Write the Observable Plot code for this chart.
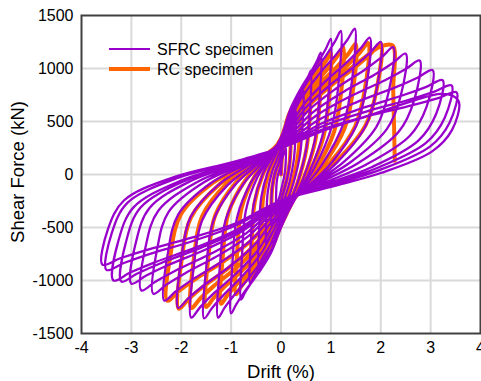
<!DOCTYPE html>
<html><head><meta charset="utf-8">
<script src="https://cdn.jsdelivr.net/npm/d3@7"></script>
<script src="https://cdn.jsdelivr.net/npm/@observablehq/plot@0.6"></script>
<style>body{margin:0;background:#fff}</style>
</head><body><div id="chart"></div><script>
// Tick labels
const xTicks = [-4,-3,-2,-1,0,1,2,3,4];
const yTicks = [-1500,-1000,-500,0,500,1000,1500];
const xGrid = [-3,-2,-1,0,1,2,3];
const yGrid = [-1000,-500,0,500,1000];
const seriesNames = ["SFRC specimen","RC specimen"];
const seriesColors = ["#9900cc","#ff6600"];

// SFRC specimen: [drift %, shear kN], one array per cycle
const sfrcLoops = [
 [[0,0]],
 [[0.025,153],[0.05,187],[0.075,216],[0.09,235],[0.1,250],[0.096,138],[0.085,50],[0.056,-38],[0.028,-94],[0,-150],[-0.025,-203],[-0.05,-237],[-0.075,-266],[-0.09,-285],[-0.1,-300],[-0.097,-180],[-0.088,-80],[-0.06,0],[-0.027,52],[0,100]],
 [[0.05,268],[0.1,325],[0.15,373],[0.18,405],[0.2,430],[0.192,240],[0.17,90],[0.112,-60],[0.056,-155],[0,-250],[-0.05,-331],[-0.1,-383],[-0.15,-427],[-0.18,-457],[-0.2,-480],[-0.194,-282],[-0.176,-117],[-0.12,15],[-0.054,101],[0,180]],
 [[0.075,373],[0.15,453],[0.225,520],[0.27,565],[0.3,600],[0.288,337],[0.255,130],[0.168,-77],[0.084,-208],[0,-340],[-0.075,-452],[-0.15,-526],[-0.225,-586],[-0.27,-628],[-0.3,-660],[-0.291,-387],[-0.264,-160],[-0.18,23],[-0.081,141],[0,250]],
 [[0.1125,482],[0.225,594],[0.3375,687],[0.405,751],[0.45,800],[0.432,458],[0.3825,190],[0.252,-78],[0.126,-249],[0,-420],[-0.1125,-574],[-0.225,-675],[-0.3375,-759],[-0.405,-816],[-0.45,-860],[-0.4365,-509],[-0.396,-217],[-0.27,18],[-0.1215,170],[0,310]],
 [[0.15,564],[0.3,711],[0.45,833],[0.54,916],[0.6,980],[0.576,571],[0.51,250],[0.336,-71],[0.168,-276],[0,-480],[-0.155,-673],[-0.31,-799],[-0.465,-904],[-0.558,-975],[-0.62,-1030],[-0.601,-619],[-0.546,-277],[-0.372,-3],[-0.167,176],[0,340]],
 [[0.2,630],[0.4,814],[0.6,966],[0.72,1070],[0.8,1150],[0.768,688],[0.68,325],[0.448,-38],[0.224,-269],[0,-500],[-0.2,-738],[-0.4,-894],[-0.6,-1024],[-0.72,-1112],[-0.8,-1180],[-0.776,-721],[-0.704,-339],[-0.48,-33],[-0.216,166],[0,350]],
 [[0.25,669],[0.5,885],[0.75,1064],[0.9,1186],[1.0,1280],[0.96,787],[0.85,400],[0.56,13],[0.28,-234],[0,-480],[-0.25,-771],[-0.5,-961],[-0.75,-1119],[-0.9,-1227],[-1.0,-1310],[-0.97,-815],[-0.88,-403],[-0.6,-72],[-0.27,142],[0,340]],
 [[0.3,689],[0.6,925],[0.9,1119],[1.08,1253],[1.2,1355],[1.152,852],[1.02,458],[0.672,63],[0.336,-189],[0,-440],[-0.315,-759],[-0.63,-968],[-0.945,-1141],[-1.134,-1259],[-1.26,-1350],[-1.222,-846],[-1.109,-426],[-0.756,-90],[-0.34,128],[0,330]],
 [[0.37,690],[0.74,933],[1.11,1134],[1.332,1271],[1.48,1377],[1.421,879],[1.258,489],[0.829,98],[0.414,-151],[0,-400],[-0.385,-735],[-0.77,-956],[-1.155,-1138],[-1.386,-1262],[-1.54,-1358],[-1.494,-855],[-1.355,-435],[-0.924,-99],[-0.416,119],[0,320]],
 [[0.445,653],[0.89,878],[1.335,1065],[1.602,1192],[1.78,1290],[1.709,828],[1.513,465],[0.997,102],[0.498,-129],[0,-360],[-0.45,-707],[-0.9,-934],[-1.35,-1122],[-1.62,-1251],[-1.8,-1350],[-1.746,-852],[-1.584,-437],[-1.08,-105],[-0.486,111],[0,310]],
 [[0.5,633],[1.0,851],[1.5,1032],[1.8,1155],[2.0,1250],[1.92,808],[1.7,460],[1.12,112],[0.56,-109],[0,-330],[-0.515,-655],[-1.03,-868],[-1.545,-1045],[-1.854,-1165],[-2.06,-1258],[-1.998,-791],[-1.813,-401],[-1.236,-90],[-0.556,113],[0,300]],
 [[0.5625,609],[1.125,818],[1.6875,991],[2.025,1109],[2.25,1200],[2.16,780],[1.9125,450],[1.26,120],[0.63,-90],[0,-300],[-0.585,-612],[-1.17,-816],[-1.755,-985],[-2.106,-1101],[-2.34,-1190],[-2.27,-746],[-2.059,-376],[-1.404,-80],[-0.632,112],[0,290]],
 [[0.625,581],[1.25,779],[1.875,942],[2.25,1054],[2.5,1140],[2.4,742],[2.125,430],[1.4,118],[0.7,-81],[0,-280],[-0.64,-576],[-1.28,-770],[-1.92,-931],[-2.304,-1041],[-2.56,-1125],[-2.483,-703],[-2.253,-352],[-1.536,-71],[-0.691,111],[0,280]],
 [[0.695,552],[1.39,737],[2.085,890],[2.502,995],[2.78,1075],[2.669,700],[2.363,405],[1.557,110],[0.778,-77],[0,-265],[-0.7,-555],[-1.4,-746],[-2.1,-903],[-2.52,-1011],[-2.8,-1094],[-2.716,-685],[-2.464,-344],[-1.68,-71],[-0.756,106],[0,270]],
 [[0.76,517],[1.52,683],[2.28,819],[2.736,913],[3.04,985],[2.918,638],[2.584,365],[1.702,92],[0.851,-81],[0,-255],[-0.75,-526],[-1.5,-705],[-2.25,-852],[-2.7,-953],[-3.0,-1030],[-2.91,-642],[-2.64,-318],[-1.8,-59],[-0.81,110],[0,265]],
 [[0.81,481],[1.62,625],[2.43,745],[2.916,827],[3.24,890],[3.11,571],[2.754,320],[1.814,69],[0.907,-90],[0,-250],[-0.8,-516],[-1.6,-691],[-2.4,-835],[-2.88,-934],[-3.2,-1010],[-3.104,-629],[-2.816,-312],[-1.92,-58],[-0.864,108],[0,260]],
 [[0.855,460],[1.71,594],[2.565,705],[3.078,782],[3.42,840],[3.283,536],[2.907,298],[1.915,59],[0.958,-93],[0,-245],[-0.84,-509],[-1.68,-683],[-2.52,-826],[-3.024,-925],[-3.36,-1000],[-3.259,-624],[-2.957,-310],[-2.016,-59],[-0.907,104],[0,255]],
 [[0.88,434],[1.76,555],[2.64,654],[3.168,723],[3.52,775],[3.379,489],[2.992,265],[1.971,41],[0.986,-102],[0,-245],[-0.875,-474],[-1.75,-625],[-2.625,-749],[-3.15,-835],[-3.5,-900],[-3.395,-555],[-3.08,-268],[-2.1,-38],[-0.945,112],[0,250]],
 [[0.89,420],[1.79,560],[2.68,700],[3.2,760],[3.45,740],[3.57,680],[3.43,421],[3.03,218],[2.0,14],[1.0,-116],[0,-245],[-0.895,-457],[-1.79,-596],[-2.685,-711],[-3.222,-790],[-3.58,-850],[-3.473,-520],[-3.15,-245],[-2.148,-25],[-0.967,118],[0,250]]
];

// RC specimen
const rcLoops = [
 [[0,0]],
 [[0.05,275],[0.1,337],[0.15,388],[0.18,423],[0.2,450],[0.192,254],[0.17,100],[0.112,-54],[0.056,-152],[0,-250],[-0.05,-338],[-0.1,-395],[-0.15,-443],[-0.18,-475],[-0.2,-500],[-0.194,-296],[-0.176,-126],[-0.12,10],[-0.054,98],[0,180]],
 [[0.1,458],[0.2,561],[0.3,647],[0.36,705],[0.4,750],[0.384,428],[0.34,175],[0.224,-78],[0.112,-239],[0,-400],[-0.1,-540],[-0.2,-632],[-0.3,-708],[-0.36,-760],[-0.4,-800],[-0.388,-470],[-0.352,-195],[-0.24,25],[-0.108,168],[0,300]],
 [[0.15,554],[0.3,694],[0.45,810],[0.54,889],[0.6,950],[0.576,552],[0.51,240],[0.336,-72],[0.168,-271],[0,-470],[-0.15,-656],[-0.3,-777],[-0.45,-878],[-0.54,-947],[-0.6,-1000],[-0.582,-598],[-0.528,-263],[-0.36,5],[-0.162,179],[0,340]],
 [[0.2,599],[0.4,769],[0.6,910],[0.72,1006],[0.8,1080],[0.768,643],[0.68,300],[0.448,-43],[0.224,-262],[0,-480],[-0.225,-708],[-0.45,-857],[-0.675,-981],[-0.81,-1065],[-0.9,-1130],[-0.873,-689],[-0.792,-322],[-0.54,-28],[-0.243,164],[0,340]],
 [[0.25,617],[0.5,806],[0.75,961],[0.9,1068],[1.0,1150],[0.96,705],[0.85,355],[0.56,5],[0.28,-217],[0,-440],[-0.3,-713],[-0.6,-892],[-0.9,-1041],[-1.08,-1142],[-1.2,-1220],[-1.164,-755],[-1.056,-368],[-0.72,-58],[-0.324,144],[0,330]],
 [[0.3125,628],[0.625,830],[0.9375,998],[1.125,1112],[1.25,1200],[1.2,752],[1.0625,400],[0.7,48],[0.35,-176],[0,-400],[-0.375,-698],[-0.75,-893],[-1.125,-1055],[-1.35,-1165],[-1.5,-1250],[-1.455,-779],[-1.32,-387],[-0.9,-73],[-0.405,132],[0,320]],
 [[0.375,632],[0.75,844],[1.125,1018],[1.35,1138],[1.5,1230],[1.44,785],[1.275,435],[0.84,85],[0.42,-137],[0,-360],[-0.45,-675],[-0.9,-882],[-1.35,-1053],[-1.62,-1170],[-1.8,-1260],[-1.746,-789],[-1.584,-397],[-1.08,-83],[-0.486,122],[0,310]],
 [[0.4375,629],[0.875,845],[1.3125,1024],[1.575,1146],[1.75,1240],[1.68,800],[1.4875,455],[0.98,110],[0.49,-110],[0,-330],[-0.5125,-657],[-1.025,-872],[-1.5375,-1050],[-1.845,-1172],[-2.05,-1265],[-1.989,-796],[-1.804,-404],[-1.23,-91],[-0.554,112],[0,300]],
 [[0.5,621],[1.0,838],[1.5,1018],[1.8,1141],[2.0,1235],[1.92,805],[1.7,468],[1.12,130],[0.56,-85],[0,-300],[-0.57,-612],[-1.14,-816],[-1.71,-985],[-2.052,-1101],[-2.28,-1190],[-2.212,-746],[-2.006,-376],[-1.368,-80],[-0.616,112],[0,290]],
 [[0.5,640],[1.0,860],[1.5,1040],[1.8,1150],[2.0,1210],[2.24,1217],[2.25,800],[2.27,400],[2.28,130]]
];

const toRows = loops => loops.flat().map(([x, y]) => ({x, y}));
const sfrcRows = toRows(sfrcLoops);
const rcRows = toRows(rcLoops);
const font = "'Liberation Sans', Arial, sans-serif";

const svg = Plot.plot({
  width: 481, height: 381,
  marginLeft: 81, marginRight: 1, marginTop: 15, marginBottom: 48,
  style: {fontFamily: font, fontSize: "16px", background: "#fff", color: "#000", overflow: "visible"},
  x: {domain: [-4, 4], label: null},
  y: {domain: [-1500, 1500], label: null},
  marks: [
    Plot.gridX(xGrid, {stroke: "#d9d9d9", strokeOpacity: 1, strokeWidth: 2}),
    Plot.gridY(yGrid, {stroke: "#d9d9d9", strokeOpacity: 1, strokeWidth: 2}),
    Plot.line(rcRows, {x: "x", y: "y", stroke: seriesColors[1], strokeWidth: 4, curve: "catmull-rom"}),
    Plot.line(sfrcRows, {x: "x", y: "y", stroke: seriesColors[0], strokeWidth: 2.3, curve: "catmull-rom"}),
    Plot.frame({stroke: "#404040", strokeWidth: 2}),
    Plot.axisX(xTicks, {tickSize: 0, tickPadding: 8, tickFormat: d => String(d), fontSize: 16, label: null}),
    Plot.axisY(yTicks, {tickSize: 0, tickPadding: 8, tickFormat: d => String(d), fontSize: 16, label: null})
  ]
});

const s = d3.select(svg);
s.append("text").attr("x", 281).attr("y", 378).attr("text-anchor", "middle")
  .attr("font-family", font).attr("font-size", 18.5).attr("fill", "#000").text("Drift (%)");
s.append("text").attr("transform", "translate(24,172) rotate(-90)").attr("text-anchor", "middle")
  .attr("font-family", font).attr("font-size", 18.5).attr("fill", "#000").text("Shear Force (kN)");
const leg = s.append("g");
[0, 1].forEach(i => {
  const y = 49 + i * 20;
  leg.append("line").attr("x1", 109).attr("x2", 150).attr("y1", y).attr("y2", y)
    .attr("stroke", seriesColors[i]).attr("stroke-width", i === 0 ? 2 : 4);
  leg.append("text").attr("x", 157).attr("y", y + 6).attr("text-anchor", "start")
    .attr("font-family", font).attr("font-size", 16).attr("fill", "#000").text(seriesNames[i]);
});
document.getElementById("chart").appendChild(svg);
</script></body></html>
